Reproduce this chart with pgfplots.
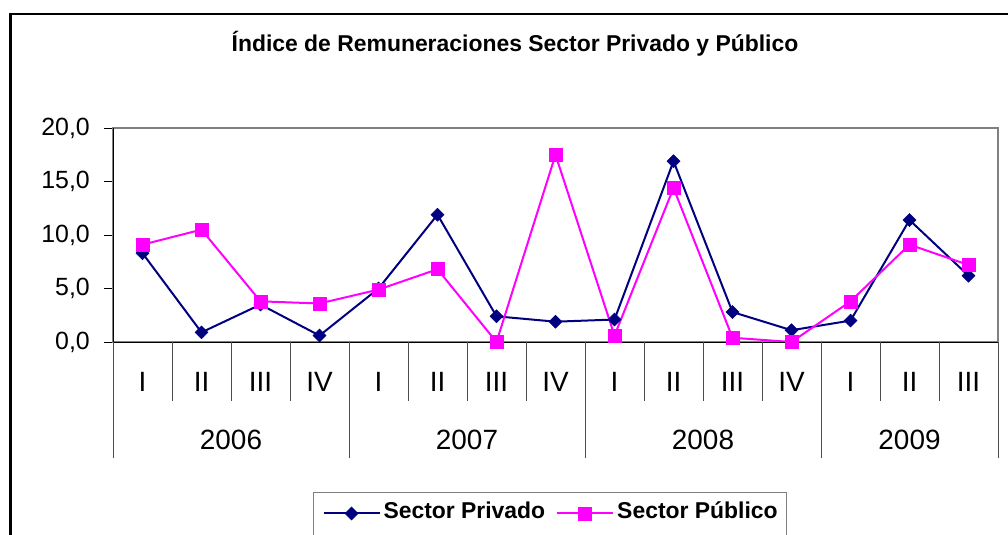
\documentclass[border=0pt]{standalone}
\usepackage{fontspec}
\setmainfont{Liberation Sans}
\usepackage{pgfplots}
\pgfplotsset{compat=1.18}
\definecolor{privado}{HTML}{000080}
\definecolor{publico}{HTML}{FF00FF}
\begin{document}
\begin{tikzpicture}
\useasboundingbox (0,0) rectangle (1008bp,-535bp);
\clip (0,0) rectangle (1008bp,-535bp);
\fill[white] (0,0) rectangle (1008bp,-535bp);
\draw[line width=2.5bp] (10.5bp,-1000bp) -- (10.5bp,-14bp) -- (1100bp,-14bp);
\node[font=\bfseries\fontsize{23}{27}\selectfont] at (515bp,-44bp) {Índice de Remuneraciones Sector Privado y Público};
\begin{axis}[
  at={(113bp,-342bp)}, anchor=south west,
  scale only axis, width=885bp, height=214bp,
  xmin=-0.5, xmax=14.5, ymin=0, ymax=20,
  clip=false,
  axis line style={draw=gray, line width=1.5bp},
  xtick=data,
  xticklabels={I,II,III,IV,I,II,III,IV,I,II,III,IV,I,II,III},
  xtick style={draw=none},
  xticklabel style={anchor=center, yshift=-40bp, font=\fontsize{28}{32}\selectfont},
  ytick={0,5,10,15,20},
  ytick pos=left,
  ytick align=outside, major tick length=9bp,
  ytick style={black, line width=1bp},
  yticklabel style={anchor=east, inner sep=0pt, xshift=-14bp, font=\fontsize{25}{30}\selectfont},
  /pgf/number format/use comma,
  /pgf/number format/fixed,
  /pgf/number format/fixed zerofill,
  /pgf/number format/precision=1,
  /pgf/number format/assume math mode=true,
  legend columns=2,
  legend style={at={(axis description cs:0.226,-0.7009)}, anchor=north west,
    draw=gray, line width=1bp, inner xsep=9bp, inner ysep=2bp,
    font=\bfseries\fontsize{23}{27}\selectfont,
    nodes={inner sep=0pt, text height=24bp, text depth=24bp},
    /tikz/every odd column/.append style={column sep=3bp},
    /tikz/every even column/.append style={column sep=11bp}},
  legend image code/.code={\draw[mark repeat=2,mark phase=2,yshift=5bp] plot coordinates {(0bp,0bp) (28bp,0bp) (56bp,0bp)};},
]
\addplot[privado, line width=2bp, mark=square*, mark size=4.6bp, mark options={rotate=45, fill=privado, draw=privado, line width=0.5bp}]
  coordinates {(0,8.3) (1,0.9) (2,3.5) (3,0.6) (4,5.0) (5,11.9) (6,2.4) (7,1.9) (8,2.1) (9,16.9) (10,2.8) (11,1.1) (12,2.0) (13,11.4) (14,6.2)};
\addlegendentry{Sector Privado}
\addplot[publico, line width=2bp, mark=square*, mark size=6.5bp, mark options={fill=publico, draw=publico, line width=0.5bp}]
  coordinates {(0,9.1) (1,10.5) (2,3.8) (3,3.6) (4,4.9) (5,6.8) (6,0.0) (7,17.5) (8,0.6) (9,14.4) (10,0.4) (11,0.0) (12,3.8) (13,9.1) (14,7.2)};
\addlegendentry{Sector Público}
\draw[black, line width=1bp] (rel axis cs:0,0) -- (rel axis cs:0,1);
\draw[black, line width=1bp] (rel axis cs:0,0) -- (rel axis cs:1,0);
\pgfplotsinvokeforeach{0.5,1.5,2.5,4.5,5.5,6.5,8.5,9.5,10.5,12.5,13.5}{
  \draw[gray!60!black, line width=1bp] (axis cs:#1,0) -- ++(0pt,-59bp);
}
\pgfplotsinvokeforeach{-0.5,3.5,7.5,11.5,14.5}{
  \draw[gray!60!black, line width=1bp] (axis cs:#1,0) -- ++(0pt,-116bp);
}
\node[font=\fontsize{28}{32}\selectfont] at (axis cs:1.5,0) [yshift=-98bp] {2006};
\node[font=\fontsize{28}{32}\selectfont] at (axis cs:5.5,0) [yshift=-98bp] {2007};
\node[font=\fontsize{28}{32}\selectfont] at (axis cs:9.5,0) [yshift=-98bp] {2008};
\node[font=\fontsize{28}{32}\selectfont] at (axis cs:13,0) [yshift=-98bp] {2009};
\end{axis}
\end{tikzpicture}
\end{document}
